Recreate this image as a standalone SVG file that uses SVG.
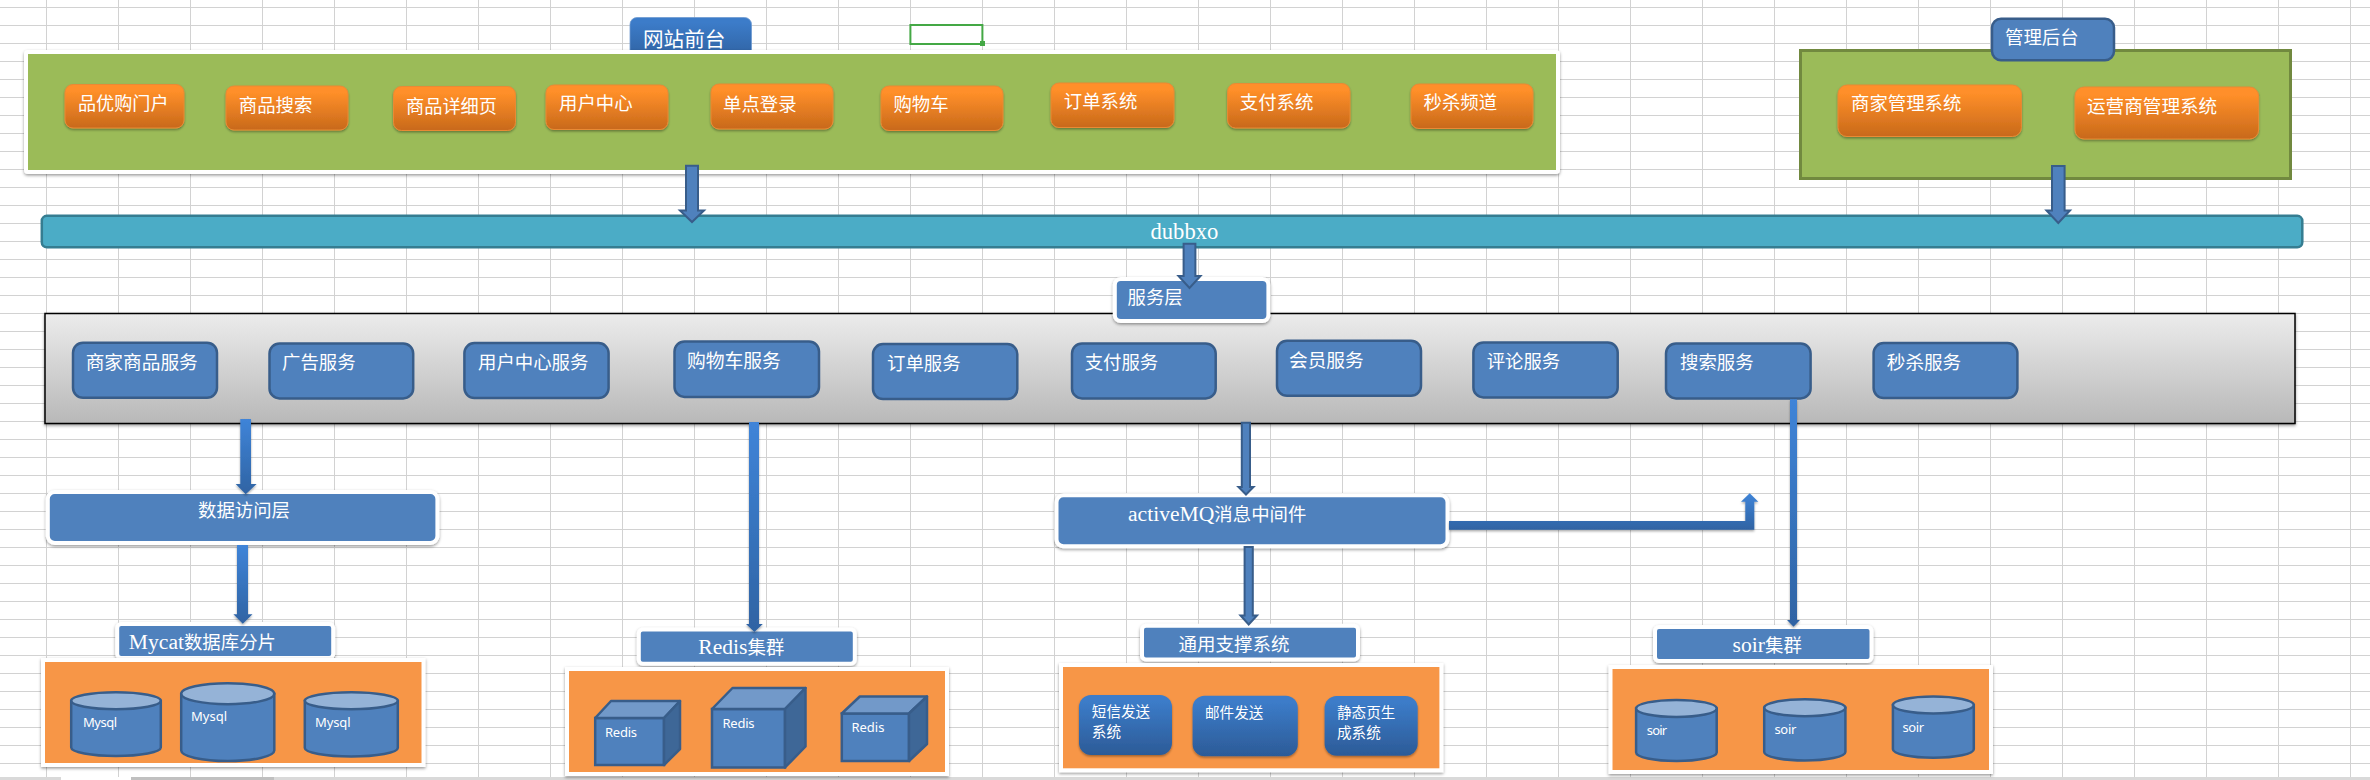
<svg xmlns="http://www.w3.org/2000/svg" width="2370" height="780" viewBox="0 0 2370 780">
<style>
text{font-family:"Liberation Serif","Noto Sans CJK SC",serif;fill:#fff;font-size:18.4px}
.lat{font-size:21.6px}
.sm{font-family:"Noto Sans","Noto Sans CJK SC",sans-serif;font-size:13px}
.cj{font-size:14.6px}
.grid{stroke:#d2d2d2;stroke-width:1;fill:none}
.pw{stroke:#fff;stroke-width:4;filter:url(#sh)}
.btn{fill:url(#gO);stroke:#E98A35;stroke-width:1;filter:url(#shs)}
.sv{fill:#4F81BD;stroke:#385D8A;stroke-width:2.5}
.bw{fill:#4F81BD;stroke:#fff;stroke-width:4;filter:url(#sh)}
.or{fill:#F79646;stroke:#fff;stroke-width:4;filter:url(#sh)}
.sb{fill:url(#gB);filter:url(#shs)}
.cyl{fill:#4F81BD;stroke:#385D8A;stroke-width:2.5}
.cap{fill:#95B3D7;stroke:#385D8A;stroke-width:2.5}
.cf{fill:#4F81BD;stroke:#385D8A;stroke-width:2.5}
.ct{fill:#7299C9;stroke:#385D8A;stroke-width:2.5;stroke-linejoin:round}
.cs{fill:#3E6797;stroke:#385D8A;stroke-width:2.5;stroke-linejoin:round}
.a1{fill:#4F81BD;stroke:#385D8A;stroke-width:2}
.a2{fill:url(#gA);filter:url(#shs)}
</style>
<defs>
<linearGradient id="gO" x1="0" y1="0" x2="0" y2="1"><stop offset="0.15" stop-color="#FF8F29"/><stop offset="1" stop-color="#C8691B"/></linearGradient>
<linearGradient id="gB" x1="0" y1="0" x2="0" y2="1"><stop offset="0.1" stop-color="#3C7CC9"/><stop offset="1" stop-color="#2C5B97"/></linearGradient>
<linearGradient id="gA" x1="0" y1="0" x2="0" y2="1"><stop offset="0" stop-color="#3F84D8"/><stop offset="1" stop-color="#2F63A3"/></linearGradient>
<linearGradient id="gG" x1="0" y1="0" x2="0" y2="1"><stop offset="0" stop-color="#ECECEC"/><stop offset="1" stop-color="#B8B8B8"/></linearGradient>
<filter id="sh" x="-5%" y="-10%" width="110%" height="125%"><feDropShadow dx="0" dy="1.5" stdDeviation="1.5" flood-color="#000" flood-opacity="0.4"/></filter>
<filter id="shs" x="-10%" y="-10%" width="120%" height="125%"><feDropShadow dx="0" dy="1.5" stdDeviation="1.2" flood-color="#000" flood-opacity="0.35"/></filter>
</defs>
<rect width="2370" height="780" fill="#fff"/>
<g id="sheet-grid">
<path class="grid" d="M46.5 0V777M118.5 0V777M190.5 0V777M262.5 0V777M334.5 0V777M406.5 0V777M478.5 0V777M550.5 0V777M622.5 0V777M694.5 0V777M766.5 0V777M838.5 0V777M910.5 0V777M982.5 0V777M1054.5 0V777M1126.5 0V777M1198.5 0V777M1270.5 0V777M1342.5 0V777M1414.5 0V777M1486.5 0V777M1558.5 0V777M1630.5 0V777M1702.5 0V777M1774.5 0V777M1846.5 0V777M1918.5 0V777M1990.5 0V777M2062.5 0V777M2134.5 0V777M2206.5 0V777M2278.5 0V777M2350.5 0V777"/>
<path class="grid" d="M0 7.5H2370M0 25.5H2370M0 43.5H2370M0 61.5H2370M0 79.5H2370M0 97.5H2370M0 115.5H2370M0 133.5H2370M0 151.5H2370M0 169.5H2370M0 187.5H2370M0 205.5H2370M0 223.5H2370M0 241.5H2370M0 259.5H2370M0 277.5H2370M0 295.5H2370M0 313.5H2370M0 331.5H2370M0 349.5H2370M0 367.5H2370M0 385.5H2370M0 403.5H2370M0 421.5H2370M0 439.5H2370M0 457.5H2370M0 475.5H2370M0 493.5H2370M0 511.5H2370M0 529.5H2370M0 547.5H2370M0 565.5H2370M0 583.5H2370M0 601.5H2370M0 619.5H2370M0 637.5H2370M0 655.5H2370M0 673.5H2370M0 691.5H2370M0 709.5H2370M0 727.5H2370M0 745.5H2370M0 763.5H2370"/>
<rect x="0" y="777" width="2370" height="3" fill="#d9d9d9"/>
<rect x="61" y="777" width="70" height="3" fill="#fff"/>
<rect x="131" y="777" width="143" height="3" fill="#c0c0c0"/>
<rect x="910.4" y="25" width="72" height="19" fill="none" stroke="#44A845" stroke-width="2"/>
<rect x="980" y="41" width="5" height="5" fill="#44A845"/>
</g>
<g id="tab-front"><rect x="630" y="17.5" width="121.5" height="50" rx="7" fill="url(#gB)" stroke="#6f9bd1" stroke-width="0.8"/><text x="643" y="46.5" font-size="20.6" style="font-size:20.6px">网站前台</text></g>
<g id="panel-front"><rect class="pw" x="26" y="52" width="1532" height="120" rx="2" fill="#9BBB59"/></g>
<g id="btn-1"><rect class="btn" x="65" y="84.5" width="119" height="43.5" rx="8"/><text x="78" y="109.5" style="font-size:18.1px">品优购门户</text></g>
<g id="btn-2"><rect class="btn" x="226" y="86" width="122" height="44" rx="8"/><text x="238.8" y="111.5">商品搜索</text></g>
<g id="btn-3"><rect class="btn" x="393.5" y="86.5" width="122" height="44" rx="8"/><text x="406" y="112.5" style="font-size:18.2px">商品详细页</text></g>
<g id="btn-4"><rect class="btn" x="546" y="85" width="122" height="44.5" rx="8"/><text x="559" y="110.2">用户中心</text></g>
<g id="btn-5"><rect class="btn" x="711" y="84" width="122" height="45" rx="8"/><text x="723" y="110.5">单点登录</text></g>
<g id="btn-6"><rect class="btn" x="881" y="86" width="122" height="44.5" rx="8"/><text x="893.4" y="110.8">购物车</text></g>
<g id="btn-7"><rect class="btn" x="1051" y="83" width="123" height="44.5" rx="8"/><text x="1063.8" y="108.2">订单系统</text></g>
<g id="btn-8"><rect class="btn" x="1227.6" y="83.5" width="122.4" height="44.5" rx="8"/><text x="1239.8" y="109.2">支付系统</text></g>
<g id="btn-9"><rect class="btn" x="1411" y="84" width="122" height="44.5" rx="8"/><text x="1423.5" y="108.8">秒杀频道</text></g>
<g id="panel-admin"><rect x="1800.5" y="50.5" width="490" height="128" fill="#9BBB59" stroke="#71893F" stroke-width="3"/></g>
<g id="tab-admin"><rect class="sv" x="1992" y="18.8" width="122" height="41.5" rx="9"/><text x="2005" y="44">管理后台</text></g>
<g id="btn-merchant"><rect class="btn" x="1838" y="85" width="183.4" height="51.5" rx="9"/><text x="1851" y="110.2">商家管理系统</text></g>
<g id="btn-operator"><rect class="btn" x="2075" y="87" width="183.6" height="52" rx="9"/><text x="2087" y="113.2" style="font-size:18.6px">运营商管理系统</text></g>
<g id="bar-dubbo"><rect x="41.8" y="215.8" width="2260.5" height="31.5" rx="5" fill="#4BACC6" stroke="#357D91" stroke-width="2.5"/><text x="1150.5" y="239" style="font-size:22.6px">dubbxo</text></g>
<g id="panel-service"><rect x="45" y="313.5" width="2250" height="110" fill="url(#gG)" stroke="#000" stroke-width="1.5" filter="url(#sh)"/></g>
<g id="box-service"><rect class="bw" x="1114.8" y="279" width="153.6" height="42" rx="6"/><text x="1127.5" y="304.2">服务层</text></g>
<g id="svc-1"><rect class="sv" x="73" y="342.8" width="144" height="55" rx="10"/><text x="85.7" y="368.8" style="font-size:18.7px">商家商品服务</text></g>
<g id="svc-2"><rect class="sv" x="269.5" y="343.4" width="143.7" height="55" rx="10"/><text x="282" y="368.5">广告服务</text></g>
<g id="svc-3"><rect class="sv" x="464.4" y="343.1" width="144.2" height="55" rx="10"/><text x="478" y="368.5">用户中心服务</text></g>
<g id="svc-4"><rect class="sv" x="674.5" y="341.4" width="144.5" height="55.5" rx="10"/><text x="687" y="368.2" style="font-size:18.8px">购物车服务</text></g>
<g id="svc-5"><rect class="sv" x="873" y="344.1" width="144.3" height="55" rx="10"/><text x="887" y="369.8">订单服务</text></g>
<g id="svc-6"><rect class="sv" x="1072" y="343.4" width="143.7" height="55" rx="10"/><text x="1084.7" y="368.8">支付服务</text></g>
<g id="svc-7"><rect class="sv" x="1277" y="340.8" width="144" height="55" rx="10"/><text x="1289" y="366.8" style="font-size:18.7px">会员服务</text></g>
<g id="svc-8"><rect class="sv" x="1473.4" y="342.4" width="144.3" height="55" rx="10"/><text x="1486.7" y="367.8">评论服务</text></g>
<g id="svc-9"><rect class="sv" x="1666" y="343.4" width="144.6" height="55" rx="10"/><text x="1680" y="368.8">搜索服务</text></g>
<g id="svc-10"><rect class="sv" x="1873.6" y="343.1" width="143.8" height="55" rx="10"/><text x="1886.8" y="368.8" style="font-size:18.6px">秒杀服务</text></g>
<g id="box-data"><rect class="bw" x="47.8" y="492" width="389.6" height="51" rx="7"/><text x="198" y="517.2">数据访问层</text></g>
<g id="box-mq"><rect class="bw" x="1056.5" y="495.3" width="391" height="51" rx="7"/><text x="1128" y="520.8"><tspan class="lat">activeMQ</tspan>消息中间件</text></g>
<g id="box-mycat"><rect class="bw" x="117.2" y="624" width="216" height="34" rx="4"/><text x="128.8" y="649.2"><tspan class="lat">Mycat</tspan>数据库分片</text></g>
<g id="panel-mysql"><rect class="or" x="43" y="660" width="380.5" height="105"/></g>
<g id="db-1"><path class="cyl" d="M71.2 700.7V747.5A44.8 8.5 0 0 0 160.8 747.5V700.7Z"/><ellipse class="cap" cx="116" cy="700.7" rx="44.8" ry="8.5"/><text class="sm" x="83" y="726.7" textLength="34">Mysql</text></g>
<g id="db-2"><path class="cyl" d="M181.2 693.7V750.5A46.55 10.5 0 0 0 274.3 750.5V693.7Z"/><ellipse class="cap" cx="227.75" cy="693.7" rx="46.55" ry="10.5"/><text class="sm" x="191" y="720.7" textLength="36">Mysql</text></g>
<g id="db-3"><path class="cyl" d="M304.8 700.7V747.9A46.5 8.5 0 0 0 397.8 747.9V700.7Z"/><ellipse class="cap" cx="351.3" cy="700.7" rx="46.5" ry="8.5"/><text class="sm" x="315" y="726.7" textLength="35.5">Mysql</text></g>
<g id="box-redis"><rect class="bw" x="638.8" y="629.5" width="216" height="34.3" rx="4"/><text x="698.3" y="653.5"><tspan class="lat">Redis</tspan>集群</text></g>
<g id="panel-redis"><rect class="or" x="567" y="669" width="380" height="105"/></g>
<g id="cube-1"><rect class="cf" x="595.2" y="718" width="68.8" height="47"/><polygon class="ct" points="595.2,718 611,701 680,701 664,718"/><polygon class="cs" points="664,718 680,701 680,749 664,765"/><text class="sm" x="605" y="736.7" textLength="32">Redis</text></g>
<g id="cube-2"><rect class="cf" x="712" y="709" width="73" height="58.5"/><polygon class="ct" points="712,709 732.5,688 805.5,688 785,709"/><polygon class="cs" points="785,709 805.5,688 805.5,746.5 785,767.5"/><text class="sm" x="722.5" y="727.7" textLength="32">Redis</text></g>
<g id="cube-3"><rect class="cf" x="841.8" y="713.5" width="67.2" height="47.5"/><polygon class="ct" points="841.8,713.5 859.8,696.5 927,696.5 909,713.5"/><polygon class="cs" points="909,713.5 927,696.5 927,744 909,761"/><text class="sm" x="851.4" y="731.7" textLength="33">Redis</text></g>
<g id="box-support"><rect class="bw" x="1142" y="625.8" width="216" height="33.6" rx="4"/><text x="1178.6" y="650.5" style="font-size:18.5px">通用支撑系统</text></g>
<g id="panel-support"><rect class="or" x="1061" y="665" width="380.4" height="105.3"/></g>
<g id="sys-sms"><rect class="sb" x="1079" y="695" width="93" height="60" rx="12"/><text class="cj" x="1091.8" y="717">短信发送</text><text class="cj" x="1091.8" y="736.5">系统</text></g>
<g id="sys-mail"><rect class="sb" x="1192.6" y="695.7" width="105.2" height="60.6" rx="12"/><text class="cj" x="1205" y="717.7">邮件发送</text></g>
<g id="sys-static"><rect class="sb" x="1324.6" y="696" width="93.1" height="59.7" rx="12"/><text class="cj" x="1337" y="718">静态页生</text><text class="cj" x="1337" y="737.5">成系统</text></g>
<g id="box-solr"><rect class="bw" x="1655" y="627" width="216.5" height="34" rx="4"/><text x="1732.6" y="652.2"><tspan class="lat">soir</tspan>集群</text></g>
<g id="panel-solr"><rect class="or" x="1610.5" y="667" width="380.5" height="105"/></g>
<g id="solr-1"><path class="cyl" d="M1636.1 708.4V752.5A40.3 8.5 0 0 0 1716.7 752.5V708.4Z"/><ellipse class="cap" cx="1676.4" cy="708.4" rx="40.3" ry="8.5"/><text class="sm" x="1646.7" y="735" textLength="20.5">soir</text></g>
<g id="solr-2"><path class="cyl" d="M1764.2 707.7V752A40.6 8.5 0 0 0 1845.4 752V707.7Z"/><ellipse class="cap" cx="1804.8" cy="707.7" rx="40.6" ry="8.5"/><text class="sm" x="1774.4" y="734" textLength="22">soir</text></g>
<g id="solr-3"><path class="cyl" d="M1892.9 705V749.3A40.45 8.5 0 0 0 1973.8 749.3V705Z"/><ellipse class="cap" cx="1933.35" cy="705" rx="40.45" ry="8.5"/><text class="sm" x="1902.5" y="732" textLength="21.5">soir</text></g>
<g id="connectors">
<polygon class="a1" points="686,165.7 698,165.7 698,210.5 704,210.5 692,222 680,210.5 686,210.5"/>
<polygon class="a1" points="2052,166 2064.6,166 2064.6,210.5 2070,210.5 2058.3,223 2046.5,210.5 2052,210.5"/>
<polygon class="a1" points="1183.6,243.7 1195.4,243.7 1195.4,276 1200.5,276 1189.5,288 1178.5,276 1183.6,276"/>
<polygon class="a1" points="1241.8,422.7 1250,422.7 1250,487 1253.5,487 1246,494.5 1238.5,487 1241.8,487"/>
<polygon class="a1" points="1244.6,547 1252.8,547 1252.8,615.5 1257,615.5 1248.7,624.5 1240.5,615.5 1244.6,615.5"/>
<polygon class="a2" points="240.3,419 251,419 251,484 256.6,484 245.7,494.3 235.7,484 240.3,484"/>
<polygon class="a2" points="237,545 248,545 248,614.3 252.5,614.3 242.8,623.7 233.4,614.3 237,614.3"/>
<polygon class="a2" points="749,422 759,422 759,624 762.8,624 754.4,632 746,624 749,624"/>
<polygon class="a2" points="1790,399.3 1797,399.3 1797,620 1800,620 1793.5,626.7 1787,620 1790,620"/>
<path class="a2" d="M1449 521H1745.3V501.7H1741L1749.7 493.3L1758.3 501.7H1754.3V529.7H1449Z"/>
</g>
</svg>
